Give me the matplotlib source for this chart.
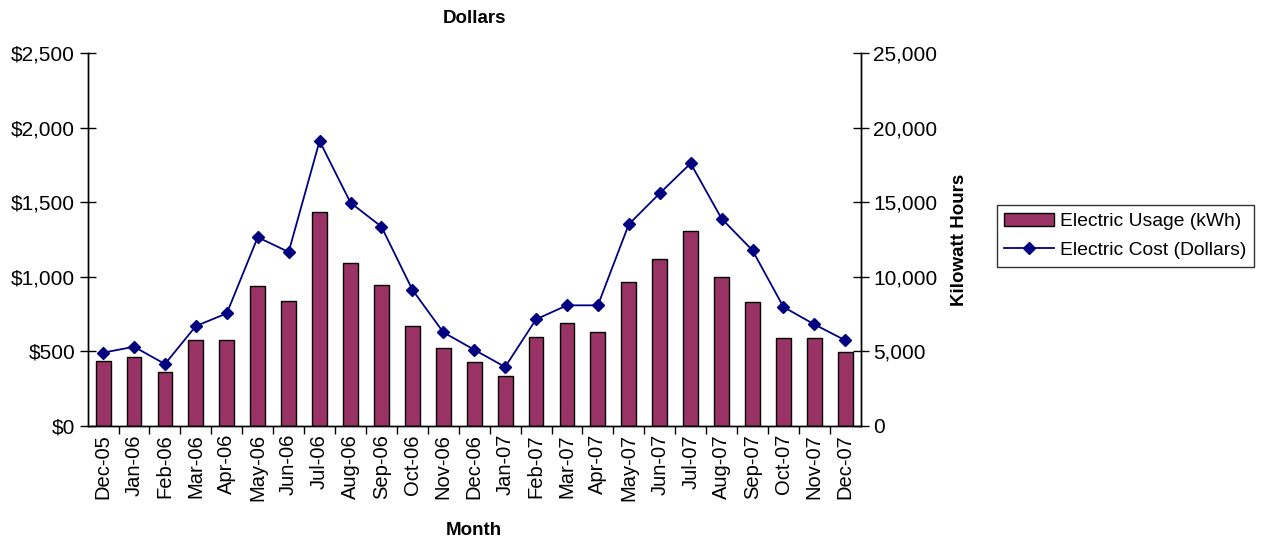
import matplotlib.pyplot as plt
from matplotlib.ticker import FuncFormatter, MultipleLocator

plt.rcParams['font.family'] = ['Liberation Sans', 'DejaVu Sans']

months = ['Dec-05', 'Jan-06', 'Feb-06', 'Mar-06', 'Apr-06', 'May-06', 'Jun-06',
          'Jul-06', 'Aug-06', 'Sep-06', 'Oct-06', 'Nov-06', 'Dec-06', 'Jan-07',
          'Feb-07', 'Mar-07', 'Apr-07', 'May-07', 'Jun-07', 'Jul-07', 'Aug-07',
          'Sep-07', 'Oct-07', 'Nov-07', 'Dec-07']
usage_kwh = [4360, 4590, 3630, 5750, 5750, 9380, 8390, 14350, 10940, 9470,
             6710, 5210, 4270, 3310, 5980, 6920, 6290, 9670, 11190, 13090,
             10000, 8300, 5860, 5860, 4920]
cost_dollars = [490, 530, 414, 669, 754, 1265, 1166, 1911, 1497, 1336, 913,
                627, 510, 394, 714, 808, 808, 1352, 1560, 1761, 1390, 1177,
                797, 680, 573]

fig = plt.figure(figsize=(12.63, 5.42), dpi=100)
ax = fig.add_axes([0.0694, 0.2146, 0.6121, 0.6871])
ax2 = ax.twinx()
ax.set_zorder(ax2.get_zorder() + 1)
ax.patch.set_visible(False)

x = list(range(len(months)))
bars = ax2.bar(x, usage_kwh, width=0.48, color='#993366', edgecolor='black',
               linewidth=1, label='Electric Usage (kWh)')
line, = ax.plot(x, cost_dollars, color='#000080', marker='D', markersize=6,
                linewidth=1.3, label='Electric Cost (Dollars)')

ax.set_xlim(-0.5, len(months) - 0.5)
ax.set_ylim(0, 2500)
ax2.set_ylim(0, 25000)
ax.yaxis.set_major_locator(MultipleLocator(500))
ax2.yaxis.set_major_locator(MultipleLocator(5000))
ax.yaxis.set_major_formatter(FuncFormatter(lambda v, p: '${:,.0f}'.format(v)))
ax2.yaxis.set_major_formatter(FuncFormatter(lambda v, p: '{:,.0f}'.format(v)))

ax.set_xticks(x)
ax.set_xticklabels(months, rotation=90, fontsize=14.5)
ax.set_xticks([i + 0.5 for i in x[:-1]], minor=True)
ax.tick_params(axis='x', which='major', length=0, pad=6)
ax.tick_params(axis='x', which='minor', length=6, width=1)
ax.tick_params(axis='y', direction='inout', length=12, width=1, labelsize=15, pad=3)
ax2.tick_params(axis='y', direction='inout', length=12, width=1, labelsize=15, pad=3)

for a in (ax, ax2):
    a.spines['top'].set_visible(False)
    for s in ('left', 'right', 'bottom'):
        a.spines[s].set_linewidth(1)

ax.set_title('Dollars', fontsize=13.5, fontweight='bold', pad=22)
ax.set_xlabel('Month', fontsize=13.5, fontweight='bold', labelpad=15)
ax2.set_ylabel('Kilowatt Hours', fontsize=13.5, fontweight='bold', labelpad=10)

leg = fig.legend([bars, line], ['Electric Usage (kWh)', 'Electric Cost (Dollars)'],
                 loc='upper left', bbox_to_anchor=(0.789, 0.622), borderaxespad=0,
                 fontsize=13.9, frameon=True, fancybox=False, handlelength=2.6,
                 handletextpad=0.3, borderpad=0.4, labelspacing=0.6)
leg.get_frame().set_edgecolor('black')
leg.get_frame().set_linewidth(1)

fig.savefig('out.png', dpi=100)
